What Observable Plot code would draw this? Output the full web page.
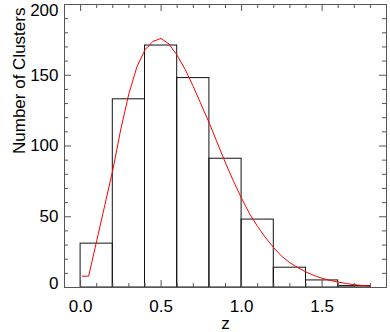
<!DOCTYPE html>
<html><head><meta charset="utf-8">
<script src="https://cdn.jsdelivr.net/npm/d3@7"></script>
<script src="https://cdn.jsdelivr.net/npm/@observablehq/plot@0.6"></script>
<style>body{margin:0;background:#fff}</style>
</head><body><div id="chart"></div>
<script>
const binStart = [0.0, 0.2, 0.4, 0.6, 0.8, 1.0, 1.2, 1.4, 1.6];
const binEnd   = [0.2, 0.4, 0.6, 0.8, 1.0, 1.2, 1.4, 1.6, 1.8];
const counts   = [31, 133, 171, 148, 91, 48, 14, 5, 1];

const curveZ = [0.01, 0.05, 0.1, 0.15, 0.2, 0.25, 0.3, 0.35, 0.4, 0.45, 0.5, 0.55, 0.6, 0.65, 0.7, 0.75, 0.8, 0.85, 0.9, 0.95, 1.0, 1.05, 1.1, 1.15, 1.2, 1.25, 1.3, 1.35, 1.4, 1.45, 1.5, 1.55, 1.6, 1.65, 1.7, 1.75, 1.8];
const curveN = [8, 8, 33, 58, 83, 112, 137, 156, 168, 174, 176, 172, 164, 154, 142, 129, 116, 102, 88, 75, 63, 52, 43, 35, 28, 22, 17.5, 14, 11, 8.5, 6.5, 5, 3.8, 2.8, 2, 1.4, 1];

const xMajor = [0, 0.5, 1.0, 1.5];
const xMinor = [0.1, 0.2, 0.3, 0.4, 0.6, 0.7, 0.8, 0.9, 1.1, 1.2, 1.3, 1.4, 1.6, 1.7, 1.8];
const yMajor = [0, 50, 100, 150, 200];
const yMinor = [10, 20, 30, 40, 60, 70, 80, 90, 110, 120, 130, 140, 160, 170, 180, 190];
const xLabels = ["0.0", "0.5", "1.0", "1.5"];
const yLabelsMid = [50, 100, 150];

const bars = binStart.map((s, i) => ({x1: s, x2: binEnd[i], n: counts[i]}));
const curve = curveZ.map((z, i) => ({z, n: curveN[i]}));

const W = 390, H = 332, mL = 64, mR = 4, mT = 4, mB = 45;
const pw = W - mL - mR, ph = H - mT - mB;
const font = "'Liberation Sans', Arial, Helvetica, sans-serif";
const fs = 17;
const frameC = "#555";

const chart = Plot.plot({
  width: W, height: H,
  marginLeft: mL, marginRight: mR, marginTop: mT, marginBottom: mB,
  style: {fontFamily: font, fontSize: fs + "px", background: "#fff", color: "#000", overflow: "visible"},
  x: {domain: [-0.1, 1.9]},
  y: {domain: [0, 200]},
  marks: [
    Plot.rect(bars, {x1: "x1", x2: "x2", y1: 0, y2: "n", fill: "none", stroke: "#111", strokeWidth: 1}),
    Plot.line(curve, {x: "z", y: "n", stroke: "#ff0000", strokeWidth: 1}),
    Plot.frame({stroke: frameC}),
    Plot.tickX(xMajor, {x: d => d, insetTop: ph - 7, stroke: frameC}),
    Plot.tickX(xMinor, {x: d => d, insetTop: ph - 4, stroke: frameC}),
    Plot.tickX(xMajor, {x: d => d, insetBottom: ph - 7, stroke: frameC}),
    Plot.tickX(xMinor, {x: d => d, insetBottom: ph - 4, stroke: frameC}),
    Plot.tickY(yMajor, {y: d => d, insetRight: pw - 7, stroke: frameC}),
    Plot.tickY(yMinor, {y: d => d, insetRight: pw - 4, stroke: frameC}),
    Plot.tickY(yMajor, {y: d => d, insetLeft: pw - 7, stroke: frameC}),
    Plot.tickY(yMinor, {y: d => d, insetLeft: pw - 4, stroke: frameC}),
    Plot.axisX(xMajor, {tickSize: 0, tickPadding: 12, tickFormat: (d, i) => xLabels[i], fontSize: fs, label: null}),
    Plot.axisY(yLabelsMid, {tickSize: 0, tickPadding: 6, fontSize: fs, label: null}),
    Plot.axisY([200], {tickSize: 0, tickPadding: 6, fontSize: fs, label: null, dy: 6}),
    Plot.axisY([0], {tickSize: 0, tickPadding: 6, fontSize: fs, label: null, dy: -4}),
    Plot.text(["z"], {frameAnchor: "bottom", text: d => d, dy: 36, lineAnchor: "middle", fontSize: fs}),
    Plot.text(["Number of Clusters"], {frameAnchor: "left", text: d => d, dx: -45, dy: 8, rotate: -90, lineAnchor: "middle", fontSize: fs})
  ]
});
document.getElementById("chart").appendChild(chart);
</script>
</body></html>
